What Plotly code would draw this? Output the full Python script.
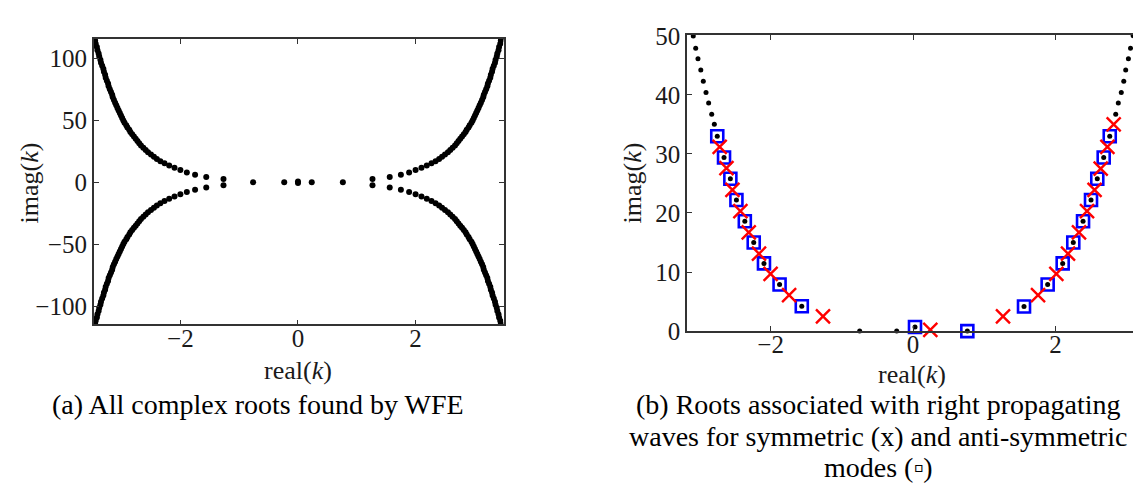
import plotly.graph_objects as go

# ---------------- data ----------------
# (a) all complex roots: first-quadrant branch (real>0, imag>0), mirrored to all quadrants
a_re_q1 = [1.267, 1.56, 1.75, 1.89, 2.00, 2.10, 2.19, 2.27, 2.34, 2.40, 2.45, 2.50, 2.55, 2.59,
           2.63, 2.67, 2.70, 2.73, 2.76, 2.79, 2.82, 2.85, 2.87, 2.90, 2.92, 2.95, 2.97, 2.99,
           3.01, 3.03, 3.05, 3.07, 3.09, 3.11, 3.13, 3.15, 3.16, 3.18, 3.20, 3.22, 3.23, 3.25,
           3.27, 3.28, 3.30, 3.31, 3.33, 3.35, 3.36, 3.38, 3.39, 3.41, 3.42, 3.44, 3.45, 3.47]
a_im_q1 = [2.5, 4.2, 6.0, 7.9, 9.8, 11.6, 13.4, 15.2, 17.0, 18.8, 20.6, 22.4, 24.2, 26.0,
           27.8, 29.6, 31.4, 33.2, 35.0, 36.8, 38.6, 40.4, 42.2, 44.1, 46.0, 47.9, 49.8, 51.8,
           53.8, 55.8, 57.8, 59.9, 62.0, 64.1, 66.2, 68.4, 70.6, 72.8, 75.0, 77.3, 79.6, 81.9,
           84.2, 86.6, 89.0, 91.4, 93.8, 96.3, 98.8, 101.3, 103.8, 106.4, 109.0, 111.6, 114.2, 116.8]
# roots on / near the real axis
a_axis_re = [-0.763, -0.234, 0.0, 0.0, 0.234, 0.763]
a_axis_im = [0.0, 0.0, 0.65, -0.65, 0.0, 0.0]

# (b) right-propagating roots
# plain black dots (no mode marker)
b_dot_re = [-3.086, -3.052, -3.02, -2.98, -2.945, -2.907, -2.87, -2.827, -2.79,
            -0.749, -0.229,
            2.847, 2.883, 2.925, 2.96, 2.987, 3.025, 3.055, 3.09]
b_dot_im = [49.97, 47.9, 46.1, 44.2, 42.3, 40.4, 38.6, 36.7, 35.0,
            0.0, 0.0,
            36.7, 38.6, 40.4, 42.3, 44.2, 46.1, 47.9, 50.0]
# anti-symmetric modes (squares, with dot)
b_anti_re = [-2.749, -2.654, -2.565, -2.48, -2.362, -2.237, -2.093, -1.874, -1.562,
             0.028, 0.763,
             1.559, 1.891, 2.102, 2.251, 2.388, 2.50, 2.588, 2.678, 2.763]
b_anti_im = [33.0, 29.4, 25.8, 22.2, 18.6, 15.0, 11.46, 7.9, 4.2,
             0.69, 0.0,
             4.16, 7.9, 11.46, 15.0, 18.6, 22.2, 25.8, 29.4, 33.0]
# symmetric modes (crosses)
b_sym_re = [-2.715, -2.62, -2.536, -2.424, -2.307, -2.163, -2.0, -1.74, -1.264,
            0.243,
            1.264, 1.756, 2.013, 2.177, 2.331, 2.444, 2.55, 2.636, 2.73, 2.818]
b_sym_im = [31.2, 27.6, 23.9, 20.3, 16.7, 13.1, 9.7, 6.1, 2.5,
            0.2,
            2.5, 6.1, 9.7, 13.1, 16.7, 20.3, 23.9, 27.5, 31.2, 35.0]

# ---------------- figure ----------------
W, H = 1141, 487
def px(x): return x / W
def py(y): return 1 - y / H

SERIF = "Liberation Serif, Times New Roman, Times, serif"

a_re, a_im = [], []
for sx in (1, -1):
    for sy in (1, -1):
        a_re += [sx * v for v in a_re_q1]
        a_im += [sy * v for v in a_im_q1]
a_re += a_axis_re
a_im += a_axis_im

fig = go.Figure()
fig.add_trace(go.Scatter(x=a_re, y=a_im, mode="markers", xaxis="x", yaxis="y",
                         marker=dict(color="black", size=6, line=dict(width=0)),
                         showlegend=False, hoverinfo="skip"))

fig.add_trace(go.Scatter(x=b_dot_re + b_anti_re, y=b_dot_im + b_anti_im, mode="markers",
                         xaxis="x2", yaxis="y2", cliponaxis=False,
                         marker=dict(color="black", size=5, line=dict(width=0)),
                         showlegend=False, hoverinfo="skip"))
fig.add_trace(go.Scatter(x=b_anti_re, y=b_anti_im, mode="markers",
                         xaxis="x2", yaxis="y2", cliponaxis=False,
                         marker=dict(symbol="square-open", color="#0000ff", size=12,
                                     line=dict(color="#0000ff", width=2.6)),
                         showlegend=False, hoverinfo="skip"))
fig.add_trace(go.Scatter(x=b_sym_re, y=b_sym_im, mode="markers",
                         xaxis="x2", yaxis="y2", cliponaxis=False,
                         marker=dict(symbol="x-thin", color="#ff0000", size=14,
                                     line=dict(color="#ff0000", width=2.4)),
                         showlegend=False, hoverinfo="skip"))

axcommon = dict(showline=True, mirror="ticks", ticks="inside", ticklen=5, tickwidth=1.2,
                tickcolor="#333333", linecolor="#333333", linewidth=1.6,
                showgrid=False, zeroline=False,
                tickfont=dict(family=SERIF, size=25, color="#1a1a1a"))

fig.update_layout(
    width=W, height=H, margin=dict(l=0, r=0, t=0, b=0),
    paper_bgcolor="white", plot_bgcolor="white",
    xaxis=dict(domain=[px(85.7), px(495.5)], range=[-3.474, 3.495], anchor="y",
               tickvals=[-2, 0, 2], ticklabelstandoff=-9, **axcommon),
    yaxis=dict(domain=[py(321.3), py(19)], range=[-114.7, 115.5], anchor="x",
               tickvals=[-100, -50, 0, 50, 100], **axcommon),
    xaxis2=dict(domain=[px(679), px(1133)], range=[-3.174, 3.202], anchor="y2",
                tickvals=[-2, 0, 2], ticklabelstandoff=-10, **axcommon),
    yaxis2=dict(domain=[py(328.3), py(15)], range=[0, 50.1], anchor="x2",
                tickvals=[0, 10, 20, 30, 40, 50], **axcommon),
)

lab_font = dict(family=SERIF, size=26, color="#1a1a1a")
cap_font = dict(family=SERIF, size=28, color="black")
ann = [
    dict(x=px(290), y=py(370), text="real(<i>k</i>)", font=lab_font),
    dict(x=px(904), y=py(374), text="real(<i>k</i>)", font=lab_font),
    dict(x=px(21), y=py(172), text="imag(<i>k</i>)", font=lab_font, textangle=-90),
    dict(x=px(624), y=py(172), text="imag(<i>k</i>)", font=lab_font, textangle=-90),
    dict(x=px(250), y=py(406), text="(a) All complex roots found by WFE", font=cap_font),
    dict(x=px(870), y=py(406), text="(b) Roots associated with right propagating", font=cap_font),
    dict(x=px(870), y=py(440), text="waves for symmetric (x) and anti-symmetric", font=cap_font),
    dict(x=px(870), y=py(473), text="modes (\u25ab)", font=cap_font),
]
for a in ann:
    a.update(xref="paper", yref="paper", showarrow=False, xanchor="center", yanchor="middle")
fig.update_layout(annotations=ann)

fig.write_html("out.html")
